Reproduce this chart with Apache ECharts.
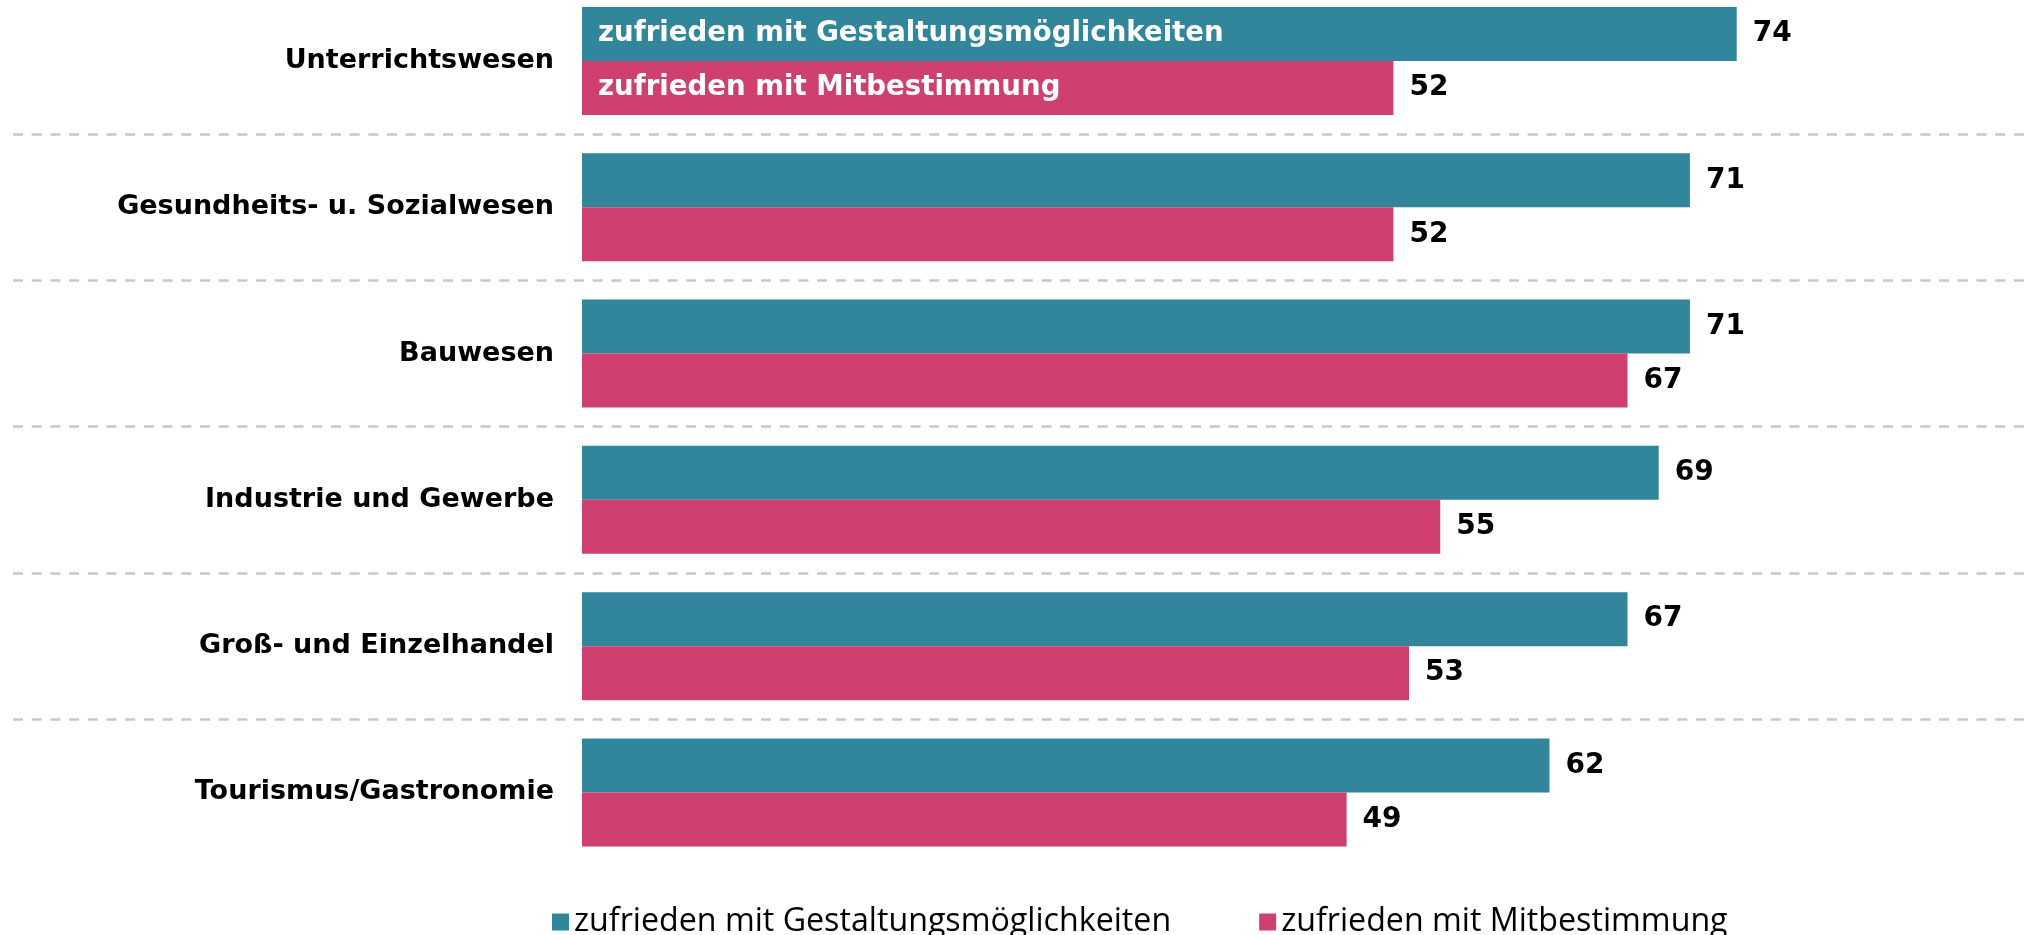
<!DOCTYPE html>
<html><head><meta charset="utf-8">
<script src="https://cdn.jsdelivr.net/npm/echarts@6/dist/echarts.min.js"></script>
<style>html,body{margin:0;padding:0;background:#fff}#c{width:2029px;height:935px}</style>
</head><body><div id="c"></div>
<script>
const categories = ['Unterrichtswesen','Gesundheits- u. Sozialwesen','Bauwesen','Industrie und Gewerbe','Groß- und Einzelhandel','Tourismus/Gastronomie'];
const seriesNames = ['zufrieden mit Gestaltungsmöglichkeiten','zufrieden mit Mitbestimmung'];
const gestaltung = [74,71,71,69,67,62];
const mitbestimmung = [52,52,67,55,53,49];
const colors = ['#31869b','#cf4070'];

const FONT = 'DejaVu Sans';
const gridTop = -12.2, gridBottom = 69.4;
const mainGrid = {left: 582, right: 42.6, top: gridTop, bottom: gridBottom, outerBoundsMode: 'none'};

function mainSeries(i, data) {
  return {
    type: 'bar', name: seriesNames[i], data: data,
    xAxisIndex: 0, yAxisIndex: 0,
    barWidth: 54, barGap: '0%',
    itemStyle: {color: colors[i]},
    label: {show: true, position: 'right', distance: 16, color: '#000',
      fontFamily: FONT, fontWeight: 'bold', fontSize: 28},
    silent: true
  };
}
function overlaySeries(i, data) {
  return {
    type: 'bar', name: 'overlay' + i,
    data: data.map((v, k) => k === 0 ? {value: v, label: {show: true}} : v),
    xAxisIndex: 2, yAxisIndex: 2,
    barWidth: 54, barGap: '0%',
    itemStyle: {color: 'rgba(0,0,0,0)'},
    label: {show: false, position: 'insideLeft', distance: 16, color: '#fff',
      formatter: seriesNames[i], fontFamily: FONT, fontWeight: 'bold', fontSize: 27.6},
    silent: true
  };
}

const chart = echarts.init(document.getElementById('c'), null, {renderer: 'canvas'});
chart.setOption({
  animation: false,
  backgroundColor: '#fff',
  grid: [
    mainGrid,
    {left: 13, right: 0, top: gridTop, bottom: gridBottom, outerBoundsMode: 'none'},
    Object.assign({}, mainGrid)
  ],
  xAxis: [
    {gridIndex: 0, type: 'value', min: 0, max: 90, show: false},
    {gridIndex: 1, type: 'value', min: 0, max: 1, show: false},
    {gridIndex: 2, type: 'value', min: 0, max: 90, show: false}
  ],
  yAxis: [
    {gridIndex: 0, type: 'category', data: categories, inverse: true,
      axisLine: {show: false}, axisTick: {show: false}, splitLine: {show: false},
      axisLabel: {margin: 28, color: '#000', fontFamily: FONT, fontWeight: 'bold', fontSize: 27}},
    {gridIndex: 1, type: 'category', data: categories, inverse: true,
      axisLine: {show: false}, axisTick: {show: false}, axisLabel: {show: false},
      splitLine: {show: true, showMinLine: false, showMaxLine: false,
        lineStyle: {color: '#c8c8c8', width: 2.5, type: [10, 8.7]}}},
    {gridIndex: 2, type: 'category', data: categories, inverse: true, show: false}
  ],
  legend: {
    data: seriesNames,
    left: 552, top: 906,
    icon: 'rect', itemWidth: 17, itemHeight: 17, itemGap: 88,
    padding: 0,
    textStyle: {color: '#000', fontFamily: 'Open Sans', fontSize: 32.2}
  },
  series: [
    mainSeries(0, gestaltung),
    mainSeries(1, mitbestimmung),
    overlaySeries(0, gestaltung),
    overlaySeries(1, mitbestimmung)
  ]
});
</script></body></html>
